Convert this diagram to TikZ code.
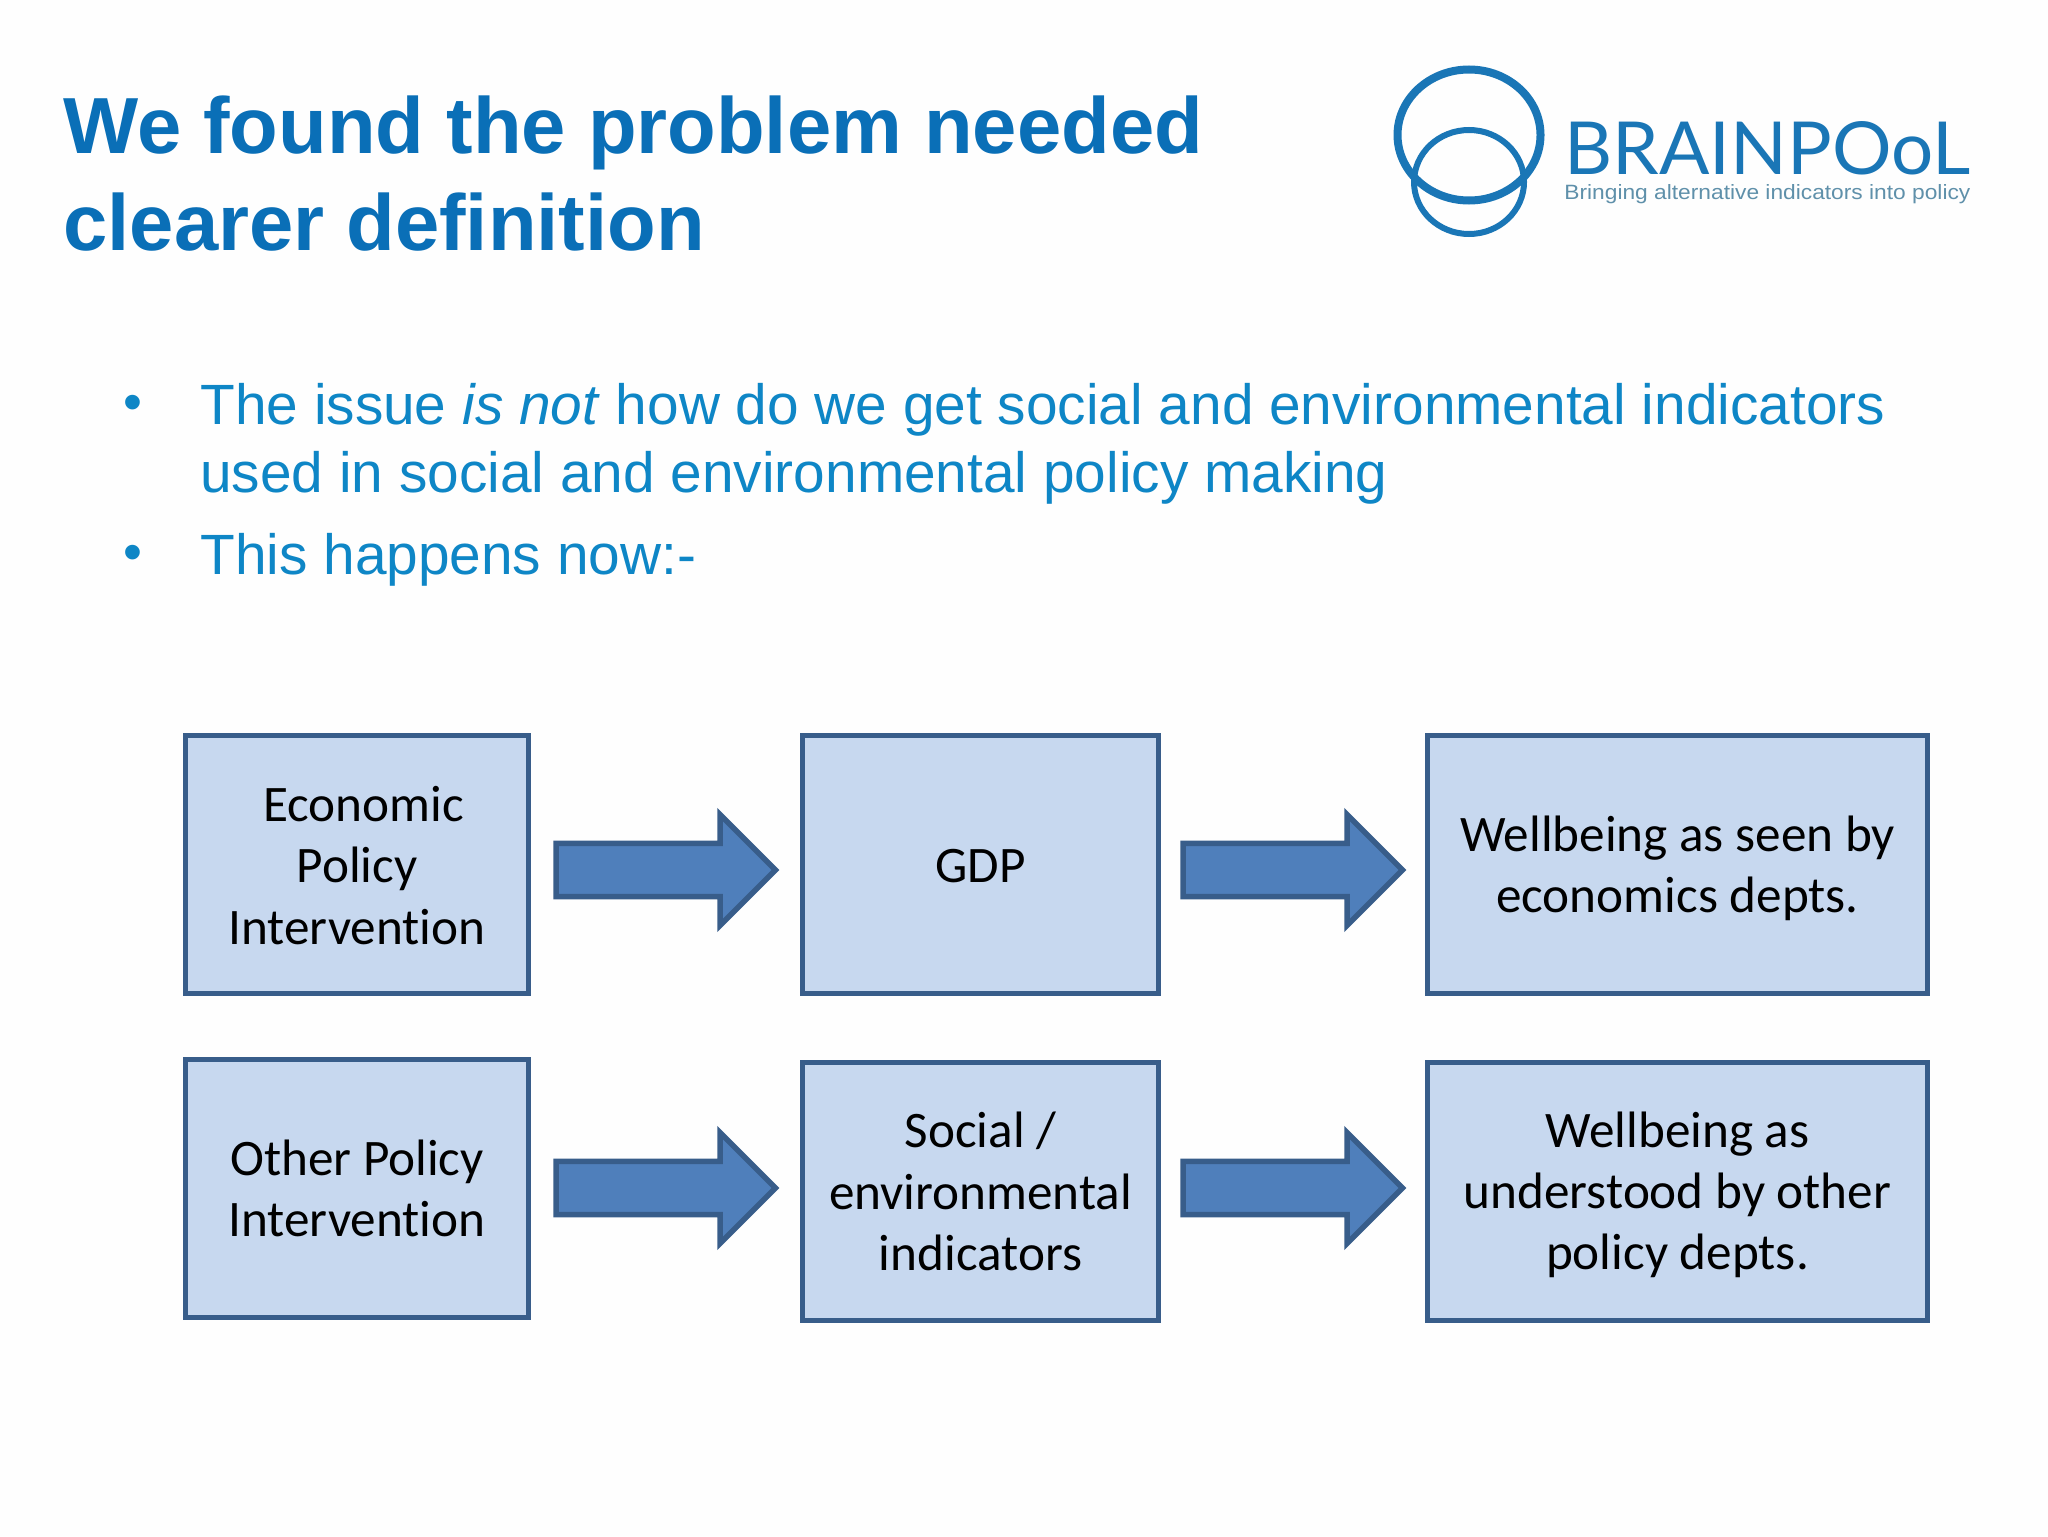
\documentclass[tikz,border=0pt]{standalone}
\usepackage{fontspec}
\usepackage{graphicx}
\setmainfont{Liberation Sans}
\newfontfamily\boxfont[Ligatures=NoCommon]{Carlito}
\newfontfamily\logofont{Lato}
\definecolor{titleblue}{HTML}{0A6FB7}
\definecolor{bodyblue}{HTML}{0E86C6}
\definecolor{boxfill}{HTML}{C7D8EF}
\definecolor{boxline}{HTML}{385D8A}
\definecolor{arrowfill}{HTML}{4F7FBB}
\definecolor{logoblue}{HTML}{1A76B6}
\definecolor{logogrey}{HTML}{5F90AA}
\tikzset{
 titletext/.style={anchor=base west,inner sep=0pt,text=titleblue,font=\fontsize{39.8}{50}\selectfont\bfseries},
 bodytext/.style={anchor=base west,inner sep=0pt,text=bodyblue,font=\fontsize{28.4}{34}\selectfont},
 bullettext/.style={anchor=base,inner sep=0pt,text=bodyblue,font=\fontsize{27}{30}\selectfont},
 flowbox/.style={rectangle,draw=boxline,fill=boxfill,line width=2.75pt,inner sep=0pt,align=center,text=black,
   font=\boxfont\fontsize{25.6}{30.6}\selectfont},
 flowarrow/.style={draw=boxline,fill=arrowfill,line width=2.75pt,miter limit=10},
}
\newcommand{\flowbx}[6]{% name, x1, y1, x2, y2, text
 \node[flowbox,minimum width={(#4-#2)*0.5pt-1.5pt},minimum height={(#5-#3)*0.5pt-1.5pt}] (#1) at ({(#2+#4)/2},{(#3+#5)/2}) {#6};}
\newcommand{\flowarr}[2]{% left x, centre y
 \path[flowarrow] (#1+3,#2-26.7) -- (#1+167,#2-26.7) -- (#1+167,#2-55.5) -- (#1+222.5,#2) -- (#1+167,#2+55.5) -- (#1+167,#2+26.7) -- (#1+3,#2+26.7) -- cycle;}
\begin{document}
\begin{tikzpicture}[x=0.5pt,y=-0.5pt]
\useasboundingbox (0,0) rectangle (2048,1536);
\fill[white!99.5!black] (0,0) rectangle (2048,1536);
\node[titletext] (t1) at (63,154) {We found the problem needed};
\node[titletext] (t2) at (63,250) {clearer definition};
% logo
\draw[logoblue,line width=4pt] (1469,135) ellipse [x radius=71.5,y radius=65.5];
\draw[logoblue,line width=3pt] (1469,182) ellipse [x radius=55,y radius=52];
\node[anchor=base west,inner sep=0pt,text=logoblue] (logo) at (1564,174) {\resizebox{203pt}{26.5pt}{\logofont BRAINPOoL}};
\node[anchor=base west,inner sep=0pt,text=logogrey] (tag) at (1564,199) {\resizebox{203pt}{7.5pt}{\fontsize{10}{12}\selectfont Bringing alternative indicators into policy}};
% bullets
\node[bullettext] (b1) at (133,420) {•};
\node[bodytext] (l1) at (200,424) {The issue \textit{is not} how do we get social and environmental indicators};
\node[bodytext] (l2) at (200,492) {used in social and environmental policy making};
\node[bullettext] (b2) at (133,570) {•};
\node[bodytext] (l3) at (200,574) {This happens now:-};
% boxes
\flowbx{a1}{184}{734}{530}{995}{\rule{0pt}{18.5pt}\hspace*{6.5pt}Economic\\Policy\\Intervention}
\flowbx{a2}{801}{734}{1160}{995}{\rule{0pt}{18.4pt}GDP}
\flowbx{a3}{1426}{734}{1929}{995}{\rule{0pt}{22pt}Wellbeing as seen by\\economics depts.}
\flowbx{b1x}{184}{1058}{530}{1319}{Other Policy\\Intervention}
\flowbx{b2x}{801}{1061}{1160}{1322}{Social /\\environmental\\indicators}
\flowbx{b3x}{1426}{1061}{1929}{1322}{\rule{0pt}{21pt}Wellbeing as\\understood by other\\policy depts.}
% arrows
\flowarr{553}{870}
\flowarr{1180}{870}
\flowarr{553}{1188}
\flowarr{1180}{1188}
\end{tikzpicture}
\end{document}
